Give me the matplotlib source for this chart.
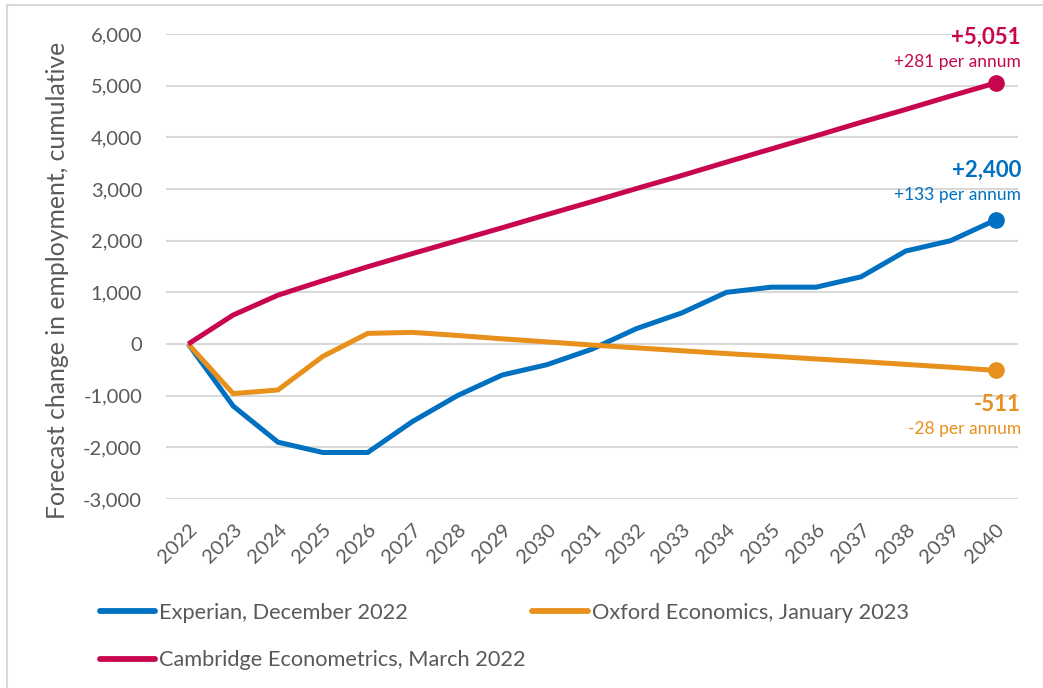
"""
Prévisions de variation cumulée de l'emploi 2022-2040 :
Experian, Oxford Economics et Cambridge Econometrics.
"""

import matplotlib.pyplot as plt
from matplotlib.lines import Line2D
from matplotlib.ticker import FuncFormatter
from matplotlib.transforms import ScaledTranslation

annees = list(range(2022, 2041))

experian = [0, -1200, -1900, -2100, -2100, -1500, -1000, -600, -400, -100,
            300, 600, 1000, 1100, 1100, 1300, 1800, 2000, 2400]
oxford = [0, -960, -890, -240, 205, 225, 165, 100, 40, -20,
          -75, -130, -185, -235, -290, -340, -395, -450, -511]
cambridge = [0, 560, 945, 1225, 1495, 1750, 2000, 2250, 2505, 2755,
             3010, 3260, 3520, 3775, 4030, 4290, 4540, 4800, 5051]

BLEU = "#0070C0"
ORANGE = "#E8901C"
ROUGE = "#C8064F"
GRIS_TEXTE = "#595959"
GRIS_GRILLE = "#D9D9D9"

series = [
    ("Experian, December 2022", experian, BLEU),
    ("Oxford Economics, January 2023", oxford, ORANGE),
    ("Cambridge Econometrics, March 2022", cambridge, ROUGE),
]

plt.rcParams["font.family"] = ["Lato", "DejaVu Sans"]

figure = plt.figure(figsize=(10.43, 6.88), dpi=100)
axe = figure.add_axes([0.159, 0.2747, 0.817, 0.6759])

positions = list(range(len(annees)))
for nom, valeurs, couleur in series:
    axe.plot(positions, valeurs, color=couleur, lw=3.6, solid_capstyle="butt",
             solid_joinstyle="miter", zorder=3)
    axe.plot(positions[-1], valeurs[-1], "o", color=couleur, ms=11, zorder=4)

# étiquettes de fin de série (total et moyenne annuelle)
x_texte = 1021 / 1043
def ecrire(y_pixel, texte, couleur, taille, gras):
    figure.text(x_texte, 1 - y_pixel / 688, texte, color=couleur, fontsize=taille,
                fontweight="bold" if gras else "normal", ha="right", va="center")

ecrire(37, f"+{cambridge[-1]:,}", ROUGE, 16, True)
ecrire(62, "+281 per annum", ROUGE, 12.5, False)
ecrire(170, f"+{experian[-1]:,}", BLEU, 16, True)
ecrire(195, "+133 per annum", BLEU, 12.5, False)
ecrire(404, f"{oxford[-1]:,}", ORANGE, 16, True)
ecrire(429, "-28 per annum", ORANGE, 12.5, False)

axe.set_xlim(-0.5, len(annees) - 0.5)
axe.set_ylim(-3000, 6000)
axe.set_yticks(range(-3000, 6001, 1000))
axe.yaxis.set_major_formatter(FuncFormatter(lambda v, _: f"{int(v):,}"))
axe.set_xticks(positions)
axe.set_xticklabels([str(a) for a in annees], rotation=45, ha="right",
                    rotation_mode="anchor")
decalage = ScaledTranslation(5 / 100, 0, figure.dpi_scale_trans)
for etiquette in axe.get_xticklabels():
    etiquette.set_transform(etiquette.get_transform() + decalage)
axe.tick_params(axis="both", length=0, labelsize=14.5, labelcolor=GRIS_TEXTE)
axe.tick_params(axis="x", pad=16)
axe.tick_params(axis="y", pad=17)
axe.grid(axis="y", color=GRIS_GRILLE, lw=1.5)
axe.set_axisbelow(True)
for cote in axe.spines.values():
    cote.set_visible(False)

figure.text(58 / 1043, 1 - 280 / 688, "Forecast change in employment, cumulative",
            rotation=90, ha="center", va="center", fontsize=17.8, color=GRIS_TEXTE)

# légende sur deux colonnes, remplie ligne par ligne
ordre = [0, 2, 1]
poignees = [Line2D([], [], color=series[i][2], lw=4.2, solid_capstyle="round")
            for i in ordre]
legende = figure.legend(poignees, [series[i][0] for i in ordre], ncol=2,
                        loc="upper left", bbox_to_anchor=(91 / 1043, 1 - 594 / 688),
                        frameon=False, fontsize=15.7, handlelength=2.55,
                        handletextpad=0.18, columnspacing=0.3, labelspacing=1.26,
                        borderaxespad=0)
for texte in legende.get_texts():
    texte.set_color(GRIS_TEXTE)

# cadre du graphique (bords gauche et haut)
figure.add_artist(Line2D([7 / 1043, 7 / 1043], [0, 1 - 5 / 688], color=GRIS_GRILLE,
                         lw=1.5, transform=figure.transFigure))
figure.add_artist(Line2D([7 / 1043, 1], [1 - 5 / 688, 1 - 5 / 688], color=GRIS_GRILLE,
                         lw=1.5, transform=figure.transFigure))

figure.savefig("out.png", dpi=100)
